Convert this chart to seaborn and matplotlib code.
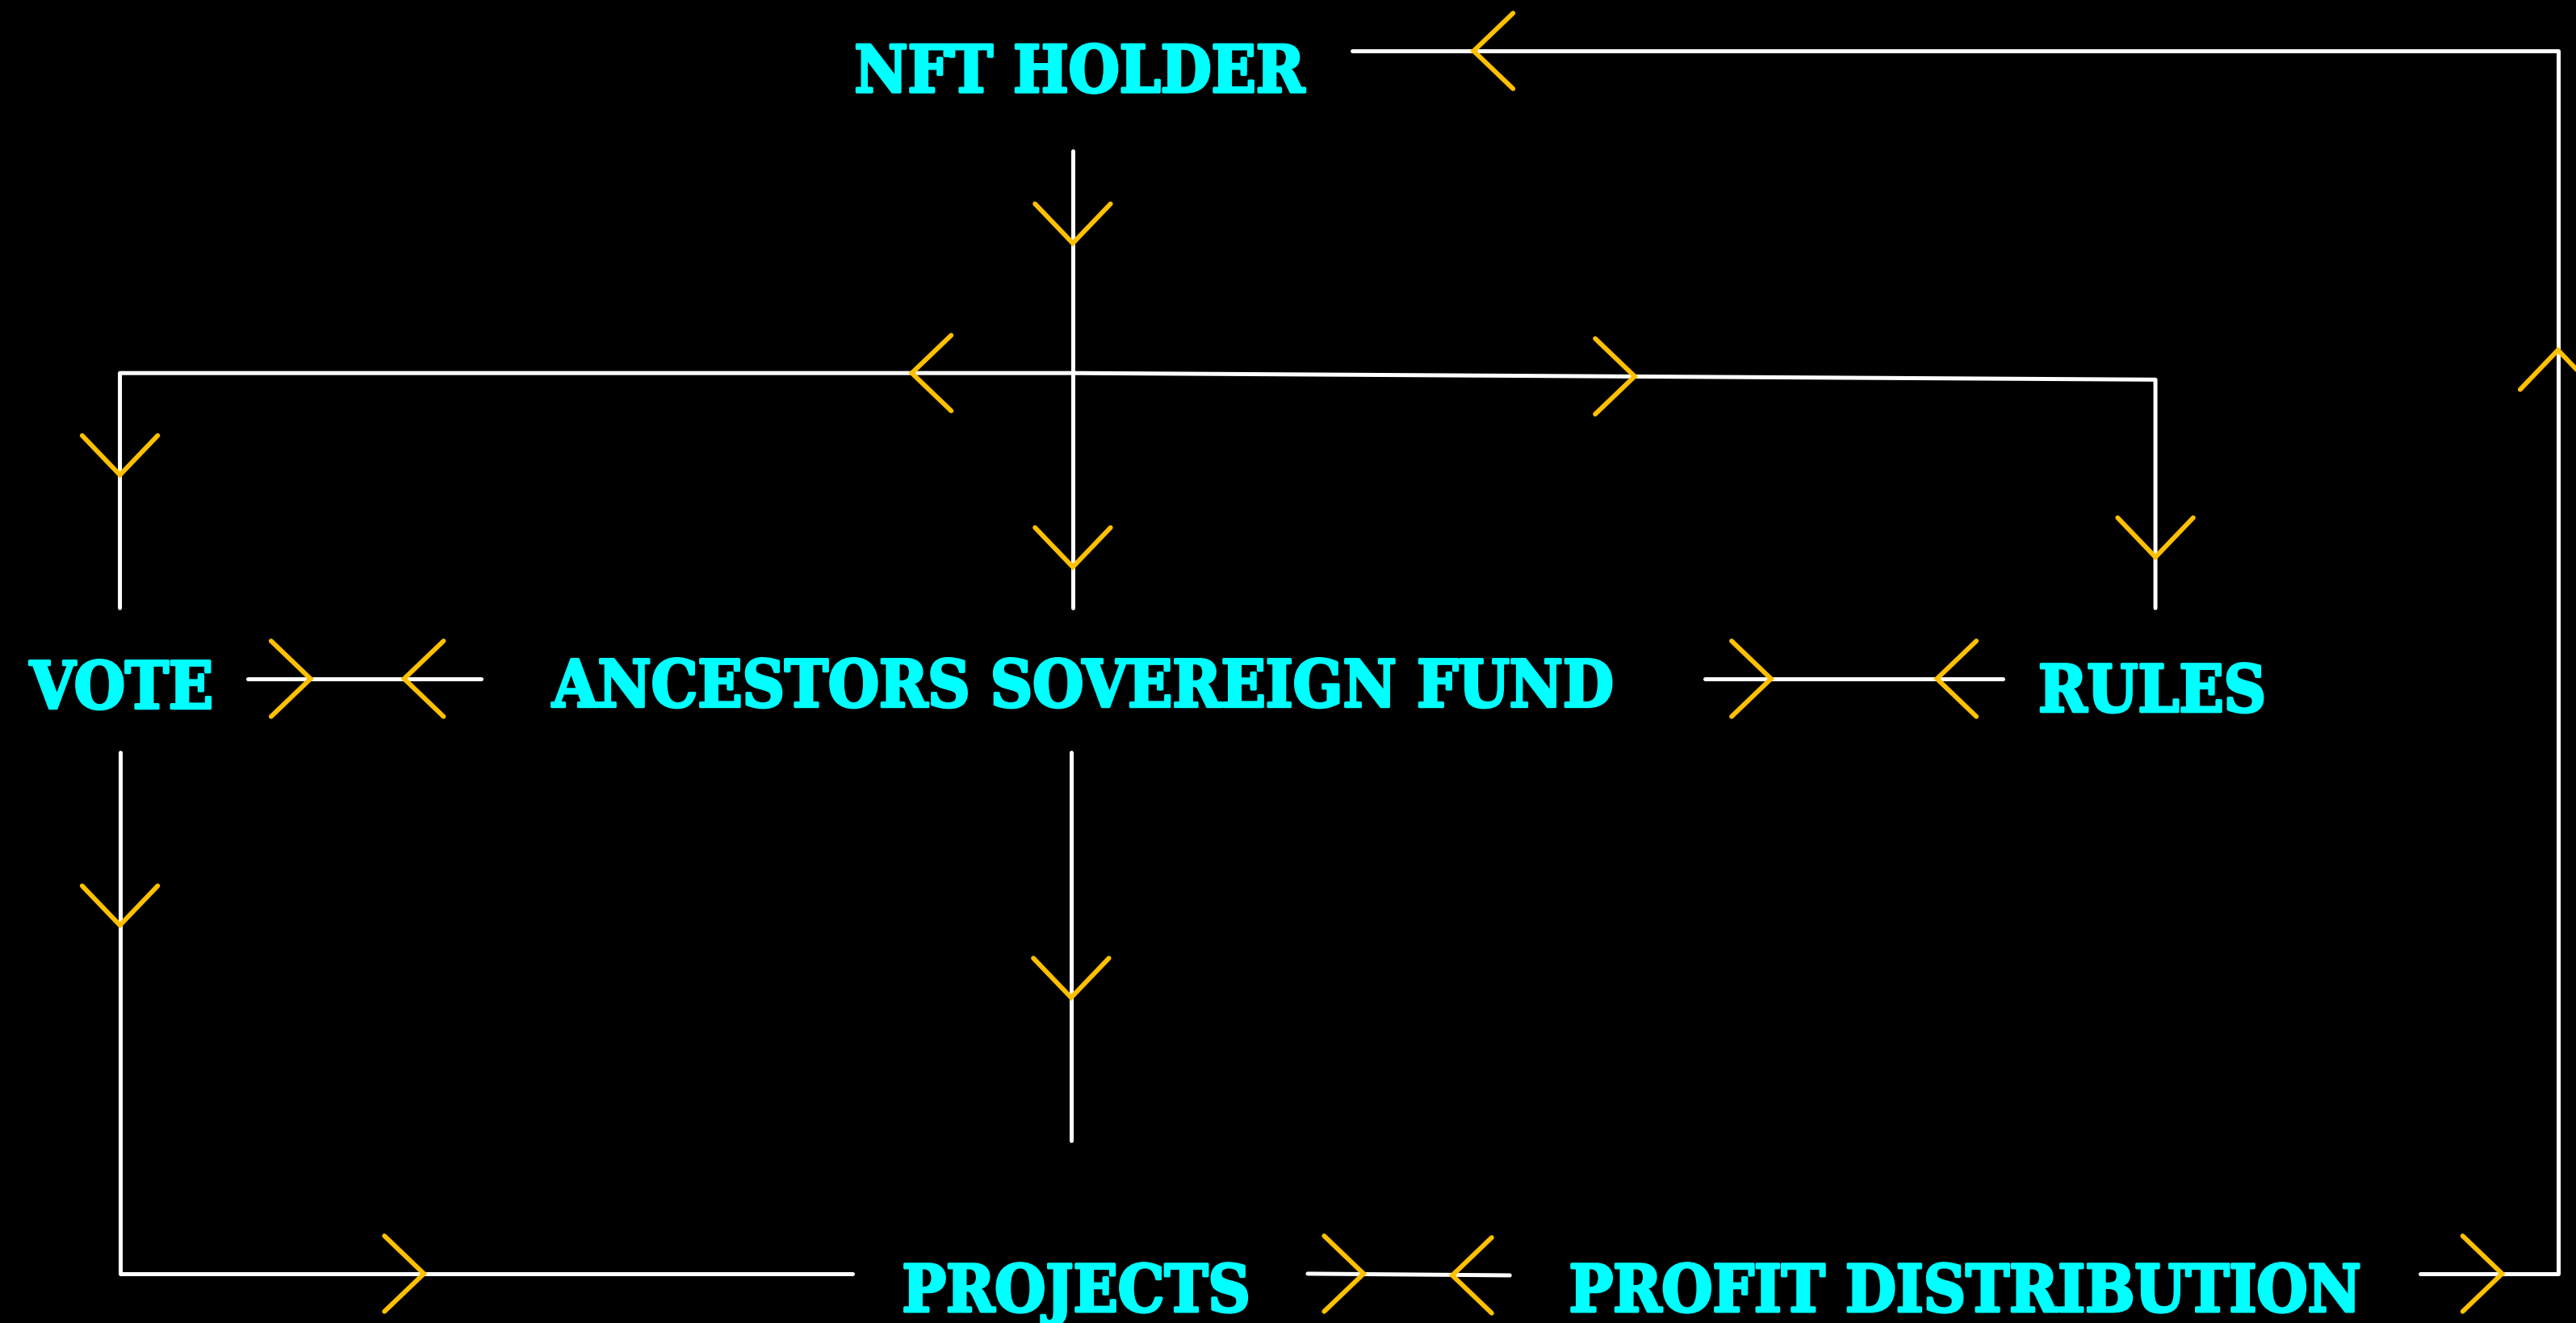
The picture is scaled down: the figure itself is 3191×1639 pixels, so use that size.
import numpy as np
import pandas as pd
import seaborn as sns
import matplotlib.pyplot as plt
import matplotlib.patheffects as pe

# Diagram coordinates in a 1568 x 805 frame (y grows downward)
W, H = 1568, 805

labels = ["NFT HOLDER", "VOTE", "ANCESTORS SOVEREIGN FUND", "RULES", "PROJECTS", "PROFIT DISTRIBUTION"]
label_x = [657, 74, 659, 1310, 655, 1196]
label_y = [56, 431, 430, 433, 798, 798]  # baselines

# connector paths (white)
path_names = ["holder_loop", "holder_down", "branch", "vote_fund",
              "fund_rules", "vote_projects", "fund_down", "projects_profit"]
path_x = [[823, 1557, 1557, 1473], [653, 653], [73, 73, 653, 1312, 1312], [151, 293],
          [1038, 1219], [73, 73, 519], [652, 652], [796, 919]]
path_y = [[31, 31, 775, 775], [92, 370], [370, 227, 227, 231, 370], [413, 413],
          [413, 413], [458, 775, 775], [458, 694], [775, 776]]

# arrow heads (gold chevrons): tip position and direction
arrow_x = [897, 1557, 1523, 653, 653, 555, 995, 1312, 73, 189, 246, 1078, 1179, 73, 258, 652, 830, 884]
arrow_y = [31, 213, 775, 148, 345, 227, 229, 339, 289, 413, 413, 413, 413, 563, 775, 607, 775, 776]
arrow_dir = ["l", "u", "r", "d", "d", "l", "r", "d", "d", "r", "l", "r", "l", "d", "r", "d", "r", "l"]

sns.set_theme(style="dark", rc={"axes.facecolor": "black", "figure.facecolor": "black"})

fig = plt.figure(figsize=(31.91, 16.39), dpi=100)
ax = fig.add_axes([0, 0, 1, 1])
ax.set_xlim(0, W)
ax.set_ylim(H, 0)
ax.axis("off")

rows = []
for name, xs, ys in zip(path_names, path_x, path_y):
    for i, (x, y) in enumerate(zip(xs, ys)):
        rows.append({"path": name, "order": i, "x": x, "y": y})
df = pd.DataFrame(rows)
sns.lineplot(data=df, x="x", y="y", units="path", estimator=None, sort=False,
             color="white", linewidth=3.6, ax=ax)

back, half = 24, 23
vecs = {"l": (-1, 0), "r": (1, 0), "u": (0, -1), "d": (0, 1)}
for x, y, d in zip(arrow_x, arrow_y, arrow_dir):
    dx, dy = vecs[d]
    px, py = -dy, dx
    xs = [x - back * dx + half * px, x, x - back * dx - half * px]
    ys = [y - back * dy + half * py, y, y - back * dy - half * py]
    ax.plot(xs, ys, color="#FFC000", linewidth=4.2, solid_joinstyle="miter")

for t, x, y in zip(labels, label_x, label_y):
    ax.text(x, y, t, ha="center", va="baseline", color="#00FFFF",
            fontsize=58, fontweight="bold", family="DejaVu Serif", fontstretch="condensed",
            path_effects=[pe.withStroke(linewidth=2.5, foreground="#00FFFF")])

fig.savefig("out.png", dpi=100, facecolor="black")
